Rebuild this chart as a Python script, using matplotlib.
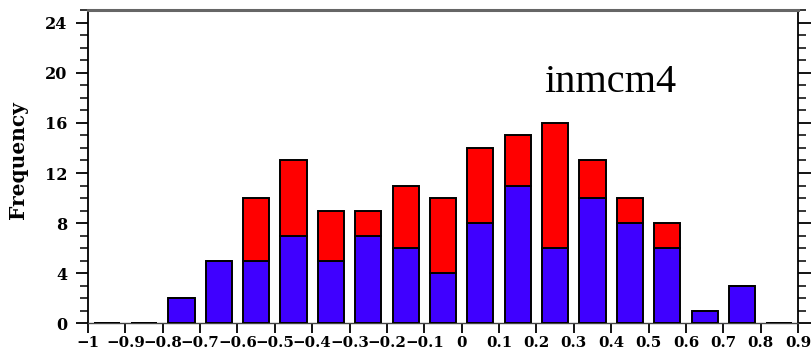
import matplotlib
matplotlib.use("Agg")
import matplotlib.pyplot as plt
from matplotlib.ticker import MultipleLocator

# Data
bin_centers = [-0.95, -0.85, -0.75, -0.65, -0.55, -0.45, -0.35, -0.25, -0.15, -0.05,
               0.05, 0.15, 0.25, 0.35, 0.45, 0.55, 0.65, 0.75, 0.85]
blue_counts = [0, 0, 2, 5, 5, 7, 5, 7, 6, 4, 8, 11, 6, 10, 8, 6, 1, 3, 0]
total_counts = [0, 0, 2, 5, 10, 13, 9, 9, 11, 10, 14, 15, 16, 13, 10, 8, 1, 3, 0]
red_counts = [t - b for t, b in zip(total_counts, blue_counts)]
xtick_values = [-1, -0.9, -0.8, -0.7, -0.6, -0.5, -0.4, -0.3, -0.2, -0.1,
                0, 0.1, 0.2, 0.3, 0.4, 0.5, 0.6, 0.7, 0.8, 0.9]
xtick_labels = ["\u22121", "\u22120.9", "\u22120.8", "\u22120.7", "\u22120.6", "\u22120.5",
                "\u22120.4", "\u22120.3", "\u22120.2", "\u22120.1", "0", "0.1", "0.2",
                "0.3", "0.4", "0.5", "0.6", "0.7", "0.8", "0.9"]
ytick_values = [0, 4, 8, 12, 16, 20, 24]
model_name = "inmcm4"

fig = plt.figure(figsize=(8.12, 3.6), dpi=100)
ax = fig.add_axes([0.1084, 0.1014, 0.8744, 0.8708])

ax.bar(bin_centers, blue_counts, width=0.07, color="#3F00FF", edgecolor="black",
       linewidth=1.4, zorder=3)
ax.bar(bin_centers, red_counts, width=0.07, bottom=blue_counts, color="#FF0000",
       edgecolor="black", linewidth=1.4, zorder=3)

ax.set_xlim(-1, 0.9)
ax.set_ylim(0, 25)
ax.set_xticks(xtick_values)
ax.set_xticklabels(xtick_labels)
ax.set_yticks(ytick_values)
ax.yaxis.set_minor_locator(MultipleLocator(1))

for lab in ax.get_xticklabels():
    lab.set_fontfamily("DejaVu Serif")
    lab.set_fontweight("bold")
    lab.set_fontsize(10.8)
for lab in ax.get_yticklabels():
    lab.set_fontfamily("DejaVu Serif")
    lab.set_fontweight("bold")
    lab.set_fontsize(11.5)

ax.tick_params(axis="x", which="major", direction="out", length=7, width=1.3, pad=2,
               top=False, bottom=True)
ax.tick_params(axis="y", which="major", direction="out", length=9, width=1.3, pad=6,
               left=True, right=True)
ax.tick_params(axis="y", which="minor", direction="out", length=6, width=1.1,
               left=True, right=True)

for sp in ax.spines.values():
    sp.set_linewidth(1.3)
ax.spines["top"].set_color("#666666")
ax.spines["top"].set_linewidth(2.2)
ax.spines["bottom"].set_color("#444444")
ax.spines["bottom"].set_linewidth(1.0)

ax.set_ylabel("Frequency", fontfamily="DejaVu Serif", fontweight="bold", fontsize=14.5)
ax.yaxis.set_label_coords(-0.085, 0.52)

ax.text(0.735, 0.77, model_name, transform=ax.transAxes, fontfamily="Liberation Serif",
        fontsize=29, ha="center", va="center")

fig.savefig("out.png", dpi=100)
